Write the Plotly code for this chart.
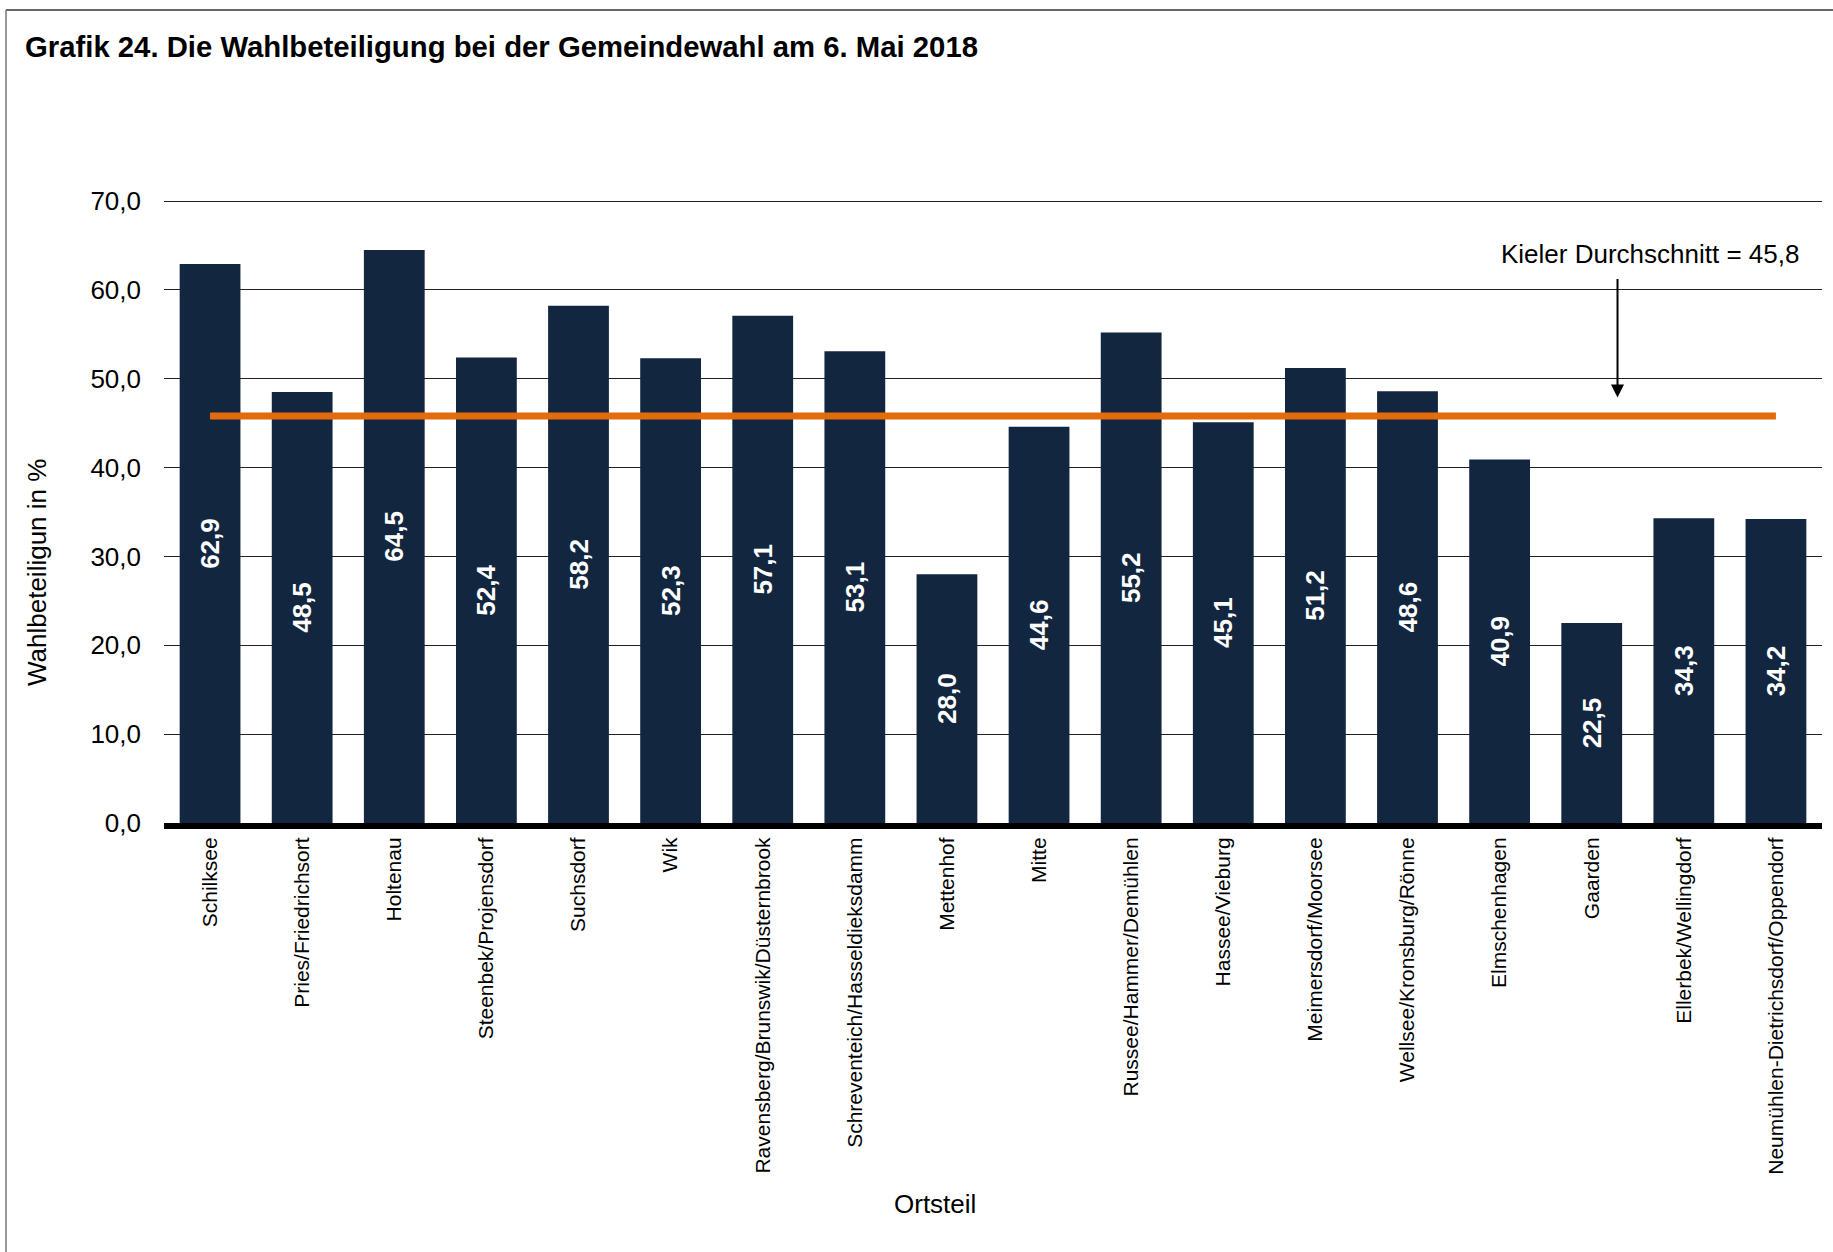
import plotly.graph_objects as go

categories = ["Schilksee", "Pries/Friedrichsort", "Holtenau", "Steenbek/Projensdorf",
              "Suchsdorf", "Wik", "Ravensberg/Brunswik/Düsternbrook",
              "Schreventeich/Hasseldieksdamm", "Mettenhof", "Mitte",
              "Russee/Hammer/Demühlen", "Hassee/Vieburg", "Meimersdorf/Moorsee",
              "Wellsee/Kronsburg/Rönne", "Elmschenhagen", "Gaarden",
              "Ellerbek/Wellingdorf", "Neumühlen-Dietrichsdorf/Oppendorf"]
values = [62.9, 48.5, 64.5, 52.4, 58.2, 52.3, 57.1, 53.1, 28.0, 44.6,
          55.2, 45.1, 51.2, 48.6, 40.9, 22.5, 34.3, 34.2]
average = 45.8
y_ticks = [0, 10, 20, 30, 40, 50, 60, 70]

FONT = "Liberation Sans, Arial, sans-serif"
BAR = "#13263F"
ORANGE = "#E36C0A"

fig = go.Figure()
fig.add_trace(go.Bar(
    x=categories, y=values,
    marker=dict(color=BAR, line=dict(width=0)),
    texttemplate="<b>%{y:.1f}</b>",
    textposition="inside", insidetextanchor="middle",
    textangle=-90,
    textfont=dict(color="white", size=26, family=FONT),
    showlegend=False, hoverinfo="skip",
))
fig.add_trace(go.Scatter(
    x=categories, y=[average] * len(categories),
    mode="lines", line=dict(color=ORANGE, width=7),
    showlegend=False, hoverinfo="skip",
))

fig.update_layout(
    width=1833, height=1252,
    paper_bgcolor="white", plot_bgcolor="white",
    margin=dict(l=164, r=11, t=198, b=429),
    separators=",.",
    bargap=0.34,
    font=dict(family=FONT, color="black"),
    title=dict(text="<b>Grafik 24. Die Wahlbeteiligung bei der Gemeindewahl am 6. Mai 2018</b>",
               x=25 / 1833, xanchor="left", y=1 - 47 / 1252, yanchor="middle",
               font=dict(size=29.3, family=FONT, color="black")),
)
fig.update_xaxes(
    type="category", tickangle=-90, tickfont=dict(size=21, family=FONT),
    showgrid=False, showline=True, linecolor="black", linewidth=6,
    ticks="", layer="above traces", ticklabelstandoff=0,
)
fig.update_yaxes(
    range=[0, 70.34], tickvals=y_ticks, tickformat=".1f",
    tickfont=dict(size=26, family=FONT),
    showgrid=True, gridcolor="#222222", gridwidth=1,
    zeroline=False, showline=False, ticks="", ticklabelstandoff=22,
)

fig.add_annotation(text="Ortsteil", xref="paper", yref="paper",
                   x=(935 - 164) / 1658, y=-381 / 625, xanchor="center", yanchor="middle",
                   showarrow=False, font=dict(size=26, family=FONT))
fig.add_annotation(text="Wahlbeteiligun in %", xref="paper", yref="paper",
                   x=(37 - 164) / 1658, y=(823 - 573) / 625, xanchor="center", yanchor="middle",
                   textangle=-90, showarrow=False, font=dict(size=26, family=FONT))
fig.add_annotation(text="Kieler Durchschnitt = 45,8", xref="x", yref="y",
                   x=15.63, y=64.0, xanchor="center", yanchor="middle",
                   showarrow=False, font=dict(size=26, family=FONT))
fig.add_annotation(text="", xref="x", yref="y", x=15.28, y=47.9,
                   ax=0, ay=-120, showarrow=True, arrowhead=2, arrowsize=1.3,
                   arrowwidth=2, arrowcolor="black")

# outer frame (top and left edge)
fig.add_shape(type="line", xref="paper", yref="paper",
              x0=(6 - 164) / 1658, x1=1.05, y0=(823 - 10) / 625, y1=(823 - 10) / 625,
              line=dict(color="#333333", width=1.5))
fig.add_shape(type="line", xref="paper", yref="paper",
              x0=(6 - 164) / 1658, x1=(6 - 164) / 1658, y0=(823 - 10) / 625, y1=-0.7,
              line=dict(color="#777777", width=1.5))

fig.write_html("out.html", config={"displayModeBar": False},
               post_script="document.body.style.margin='0';")
